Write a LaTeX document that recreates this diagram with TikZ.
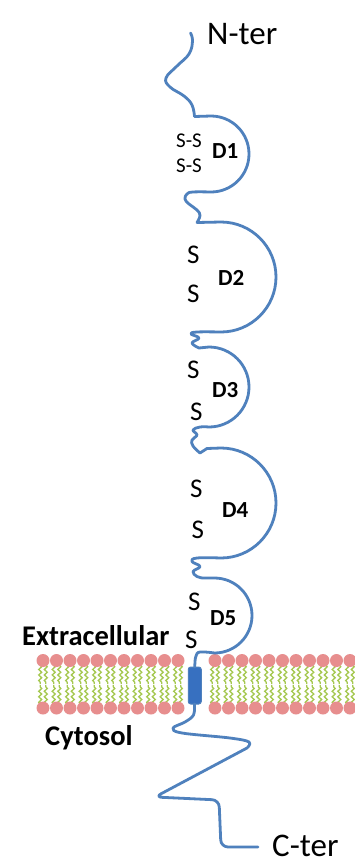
\documentclass[tikz,border=0pt]{standalone}
\usepackage{fontspec}
\setmainfont{Carlito}
\usetikzlibrary{decorations.pathmorphing}
\definecolor{protblue}{RGB}{79,129,189}
\definecolor{tmfill}{RGB}{55,112,192}
\definecolor{lipidhead}{RGB}{231,142,142}
\definecolor{lipidtail}{RGB}{165,200,80}
\begin{document}
\begin{tikzpicture}[x=1pt,y=-1pt,
  chain/.style={draw=protblue,line width=2.8pt,line cap=round,line join=round},
  tail/.style={draw=lipidtail,line width=1.3pt,decorate,decoration={snake,amplitude=1.5pt,segment length=5.5pt}},
  head/.style={fill=lipidhead,draw=none},
  lbl/.style={anchor=base west,inner sep=0pt,text=black},
  term/.style={lbl,font=\fontsize{33}{36}\selectfont},
  side/.style={lbl,font=\bfseries\fontsize{28.5}{31}\selectfont},
  dom/.style={lbl,font=\bfseries\fontsize{23}{26}\selectfont},
  sul/.style={lbl,font=\fontsize{27}{29}\selectfont},
  ss/.style={lbl,font=\fontsize{21}{24}\selectfont},
  tmbox/.style={draw=protblue,fill=tmfill,line width=1pt,rounded corners=2.5pt,
    minimum width=13pt,minimum height=37pt,inner sep=0pt}]
\useasboundingbox (0,0) rectangle (355,863);
\fill[white] (0,0) rectangle (355,863);

% lipid bilayer: tails, then heads
\foreach \i in {0,...,10}{
  \foreach \bx in {43,215}{
    \pgfmathsetmacro\hx{\bx+13.5*\i}
    \foreach \dx in {-2.8,2.8}{
      \draw[tail] (\hx+\dx,665) -- (\hx+\dx,684);
      \draw[tail] (\hx+\dx,704) -- (\hx+\dx,685);
    }
    \fill[head] (\hx,660.5) circle[radius=6.5];
    \fill[head] (\hx,708) circle[radius=6.5];
  }}

% transmembrane segment
\node[tmbox] (tm) at (194.75,685.5) {};

% extracellular chain with the five domains
\draw[chain] plot[smooth,tension=0.7] coordinates {(190.5,33)(192.5,41)(189,54)(177,66)(166,78)(170,87)(184,96)(192,105)(194.5,116.5)}
  -- (211,116) arc[start angle=-90,end angle=90,radius=38]
  -- plot[smooth,tension=0.7] coordinates {(211,192)(193,192)(187,194)(185,199)(189,204)(197,210)(200,215.5)(197,222.5)}
  -- (221,222) arc[start angle=-90,end angle=90,radius=55]
  -- plot[smooth,tension=0.7] coordinates {(221,332)(197,332)(191,334)(199,338)(192,343)(199,348)}
  -- (209,347) arc[start angle=-90,end angle=90,radius=40]
  -- plot[smooth,tension=0.7] coordinates {(209,427)(200,427)(193,430)(197,435)(192,440)(193,446)(200,453)}
  -- (207,448.5) -- (221,448) arc[start angle=-90,end angle=90,radius=55]
  -- plot[smooth,tension=0.7] coordinates {(221,558)(197,558)(192,561.5)(200,566.5)(193,571.5)(197,576.5)(203,578)}
  -- (214.5,578) arc[start angle=-90,end angle=90,radius=37.5]
  -- plot[smooth,tension=0.7] coordinates {(214.5,653)(200,652)(196,656)(195,662)(194.75,667)}
  -- (tm.north);

% cytosolic tail
\draw[chain] (tm.south) -- plot[smooth,tension=0.6] coordinates {(194.5,704)(193.5,715)(185,722)(173,728)(182,733)(230,738)(249,742)(247,748)}
  [rounded corners=7pt] -- (155,797) -- (219,800) -- (221,847) -- (258,847);

% labels
\node[term] (nter) at (207,44) {N-ter};
\node[term] (cter) at (272,856) {C-ter};
\node[side] (extra) at (22,645) {Extracellular};
\node[side] (cyto) at (45,745) {Cytosol};

\node[dom] (d1) at (212,158) {D1};
\node[dom] (d2) at (218,285) {D2};
\node[dom] (d3) at (212,397) {D3};
\node[dom] (d4) at (222,517) {D4};
\node[dom] (d5) at (210,625) {D5};

\node[ss] (ssa) at (176,147) {S-S};
\node[ss] (ssb) at (176,172) {S-S};
\node[sul] (s2a) at (187,263.5) {S};
\node[sul] (s2b) at (187,302) {S};
\node[sul] (s3a) at (187,378.5) {S};
\node[sul] (s3b) at (190,420) {S};
\node[sul] (s4a) at (190,497) {S};
\node[sul] (s4b) at (191.5,538.5) {S};
\node[sul] (s5a) at (188,610) {S};
\node[sul] (s5b) at (185,648) {S};
\end{tikzpicture}
\end{document}
